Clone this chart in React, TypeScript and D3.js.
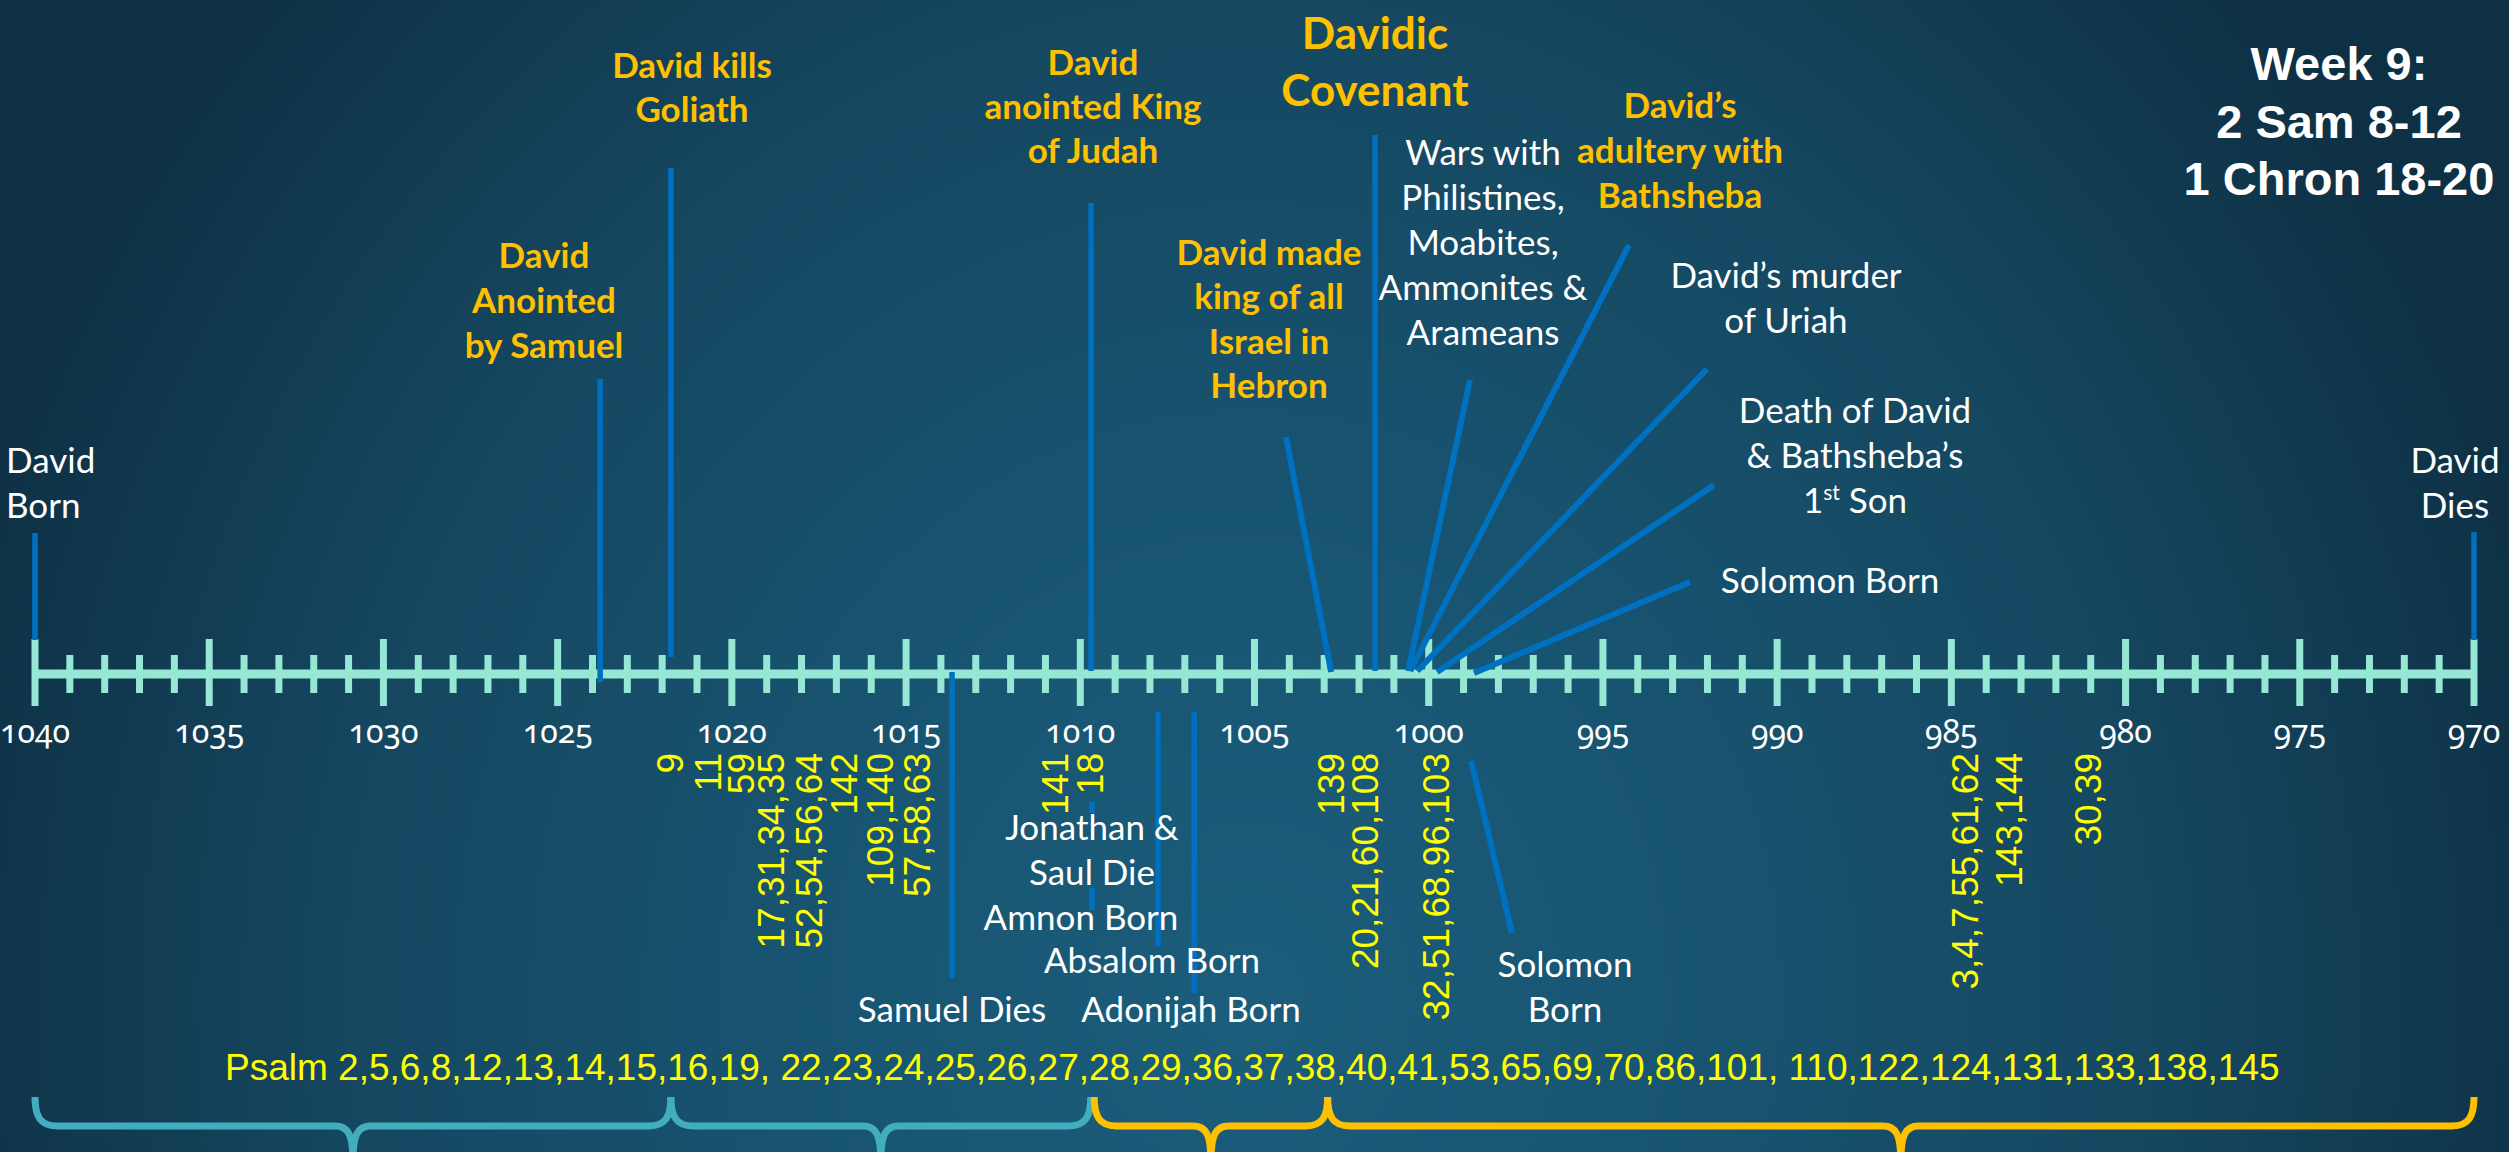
import React from "react";
import * as d3 from "d3";

const WIDTH = 2509;
const HEIGHT = 1152;

// ---------------- data ----------------
const FIRST_YEAR = 1040;
const LAST_YEAR = 970;
const MAJOR_TICK_YEARS = d3.range(1040, 969, -5);
const MINOR_TICK_YEARS = d3.range(1040, 969, -1).filter((y) => y % 5 !== 0);
const TICK_LABELS = MAJOR_TICK_YEARS.map((y) => String(y));

// events above the timeline (year where the pointer meets the axis)
const topEventIds = ["born", "samuel", "goliath", "judah", "hebron", "covenant", "wars", "adultery", "uriah", "son", "solomonTop", "dies"];
const topEventYears = [1040, 1023.78, 1021.75, 1009.69, 1002.8, 1001.54, 1000.59, 1000.53, 1000.33, 999.76, 998.7, 970];
const topEventLabels = [
  ["David", "Born"],
  ["David", "Anointed", "by Samuel"],
  ["David kills", "Goliath"],
  ["David", "anointed King", "of Judah"],
  ["David made", "king of all", "Israel in", "Hebron"],
  ["Davidic", "Covenant"],
  ["Wars with", "Philistines,", "Moabites,", "Ammonites &", "Arameans"],
  ["David’s", "adultery with", "Bathsheba"],
  ["David’s murder", "of Uriah"],
  ["Death of David", "& Bathsheba’s", "1st Son"],
  ["Solomon Born"],
  ["David", "Dies"],
];
const topEventKinds = ["white", "gold", "gold", "gold", "gold", "goldBig", "white", "gold", "white", "white", "white", "white"];

// events below the timeline
const bottomEventIds = ["samuelDies", "saul", "amnon", "absalom", "adonijah", "solomon"];
const bottomEventYears = [1013.68, 1009.66, 1009.66, 1007.77, 1006.73, 998.78];
const bottomEventLabels = [
  ["Samuel Dies"],
  ["Jonathan &", "Saul Die"],
  ["Amnon Born"],
  ["Absalom Born"],
  ["Adonijah Born"],
  ["Solomon", "Born"],
];

// psalm groups written vertically under the axis
const psalmGroupYears = [1021.75, 1020.68, 1019.71, 1018.85, 1017.76, 1016.78, 1015.72, 1014.66, 1010.72, 1009.72, 1002.8, 1001.8, 999.79, 984.6, 983.34, 981.07];
const psalmGroupLabels = ["9", "11", "59", "17,31,34,35", "52,54,56,64", "142", "109,140", "57,58,63", "141", "18", "139", "20,21,60,108", "32,51,68,96,103", "3,4,7,55,61,62", "143,144", "30,39"];

const psalmListLabel =
  "Psalm 2,5,6,8,12,13,14,15,16,19, 22,23,24,25,26,27,28,29,36,37,38,40,41,53,65,69,70,86,101, 110,122,124,131,133,138,145";

// periods marked by braces at the bottom
const periodStarts = [1040, 1021.75, 1009.6, 1002.9];
const periodEnds = [1021.75, 1009.7, 1002.9, 970];
const periodTones = ["teal", "teal", "gold", "gold"];

const titleLines = ["Week 9:", "2 Sam 8-12", "1 Chron 18-20"];

// ---------------- layout / style ----------------
const COLORS: Record<string, string> = {
  gold: "#ffc000",
  goldBig: "#ffc000",
  white: "#ffffff",
  psalm: "#ffff00",
  blue: "#0070c0",
  axis: "#96e8d4",
  teal: "#41adbd",
};
const LABEL_FONT = "Lato, 'Open Sans', sans-serif";
const TICK_FONT = "'Noto Sans', Lato, sans-serif";
const ARIAL = "'Liberation Sans', Arial, sans-serif";

const AXIS_Y = 674;

type TopLayout = { lx: number; ly: number; lh: number; anchor?: string; topX?: number; lineTop: number; lineBottom: number };
const topLayout: Record<string, TopLayout> = {
  born: { lx: 6, ly: 473, lh: 45, anchor: "start", lineTop: 533, lineBottom: 640 },
  samuel: { lx: 544, ly: 268, lh: 45, lineTop: 379, lineBottom: 682 },
  goliath: { lx: 692, ly: 78, lh: 44, lineTop: 168, lineBottom: 657 },
  judah: { lx: 1093, ly: 75, lh: 44, lineTop: 203, lineBottom: 671 },
  hebron: { lx: 1269, ly: 265, lh: 44.3, topX: 1286, lineTop: 437, lineBottom: 672 },
  covenant: { lx: 1375, ly: 49, lh: 57, lineTop: 135, lineBottom: 671 },
  wars: { lx: 1483, ly: 165, lh: 45, topX: 1470, lineTop: 380, lineBottom: 671 },
  adultery: { lx: 1680, ly: 118, lh: 45, topX: 1629, lineTop: 245, lineBottom: 671 },
  uriah: { lx: 1786, ly: 288, lh: 45, topX: 1707, lineTop: 369, lineBottom: 671 },
  son: { lx: 1855, ly: 423, lh: 45, topX: 1714, lineTop: 485, lineBottom: 672 },
  solomonTop: { lx: 1830, ly: 593, lh: 45, topX: 1690, lineTop: 582, lineBottom: 673 },
  dies: { lx: 2455, ly: 473, lh: 45, lineTop: 532, lineBottom: 640 },
};

type BottomLayout = { lx: number; ly: number; lh: number; spans?: number[][]; endX?: number; endY?: number; startY?: number };
const bottomLayout: Record<string, BottomLayout> = {
  samuelDies: { lx: 952, ly: 1022, lh: 45, spans: [[672, 978]] },
  saul: { lx: 1092, ly: 840, lh: 45, spans: [] },
  amnon: { lx: 1081, ly: 930, lh: 45, spans: [[802, 813], [888, 910]] },
  absalom: { lx: 1152, ly: 973, lh: 45, spans: [[712, 947]] },
  adonijah: { lx: 1191, ly: 1022, lh: 45, spans: [[712, 993]] },
  solomon: { lx: 1565, ly: 977, lh: 45, startY: 761, endX: 1512, endY: 933 },
};

function bracePath(x0: number, x1: number, top: number, mid: number, bottom: number) {
  const xm = (x0 + x1) / 2;
  return (
    `M${x0},${top} C${x0},${mid - 10} ${x0 + 5},${mid} ${x0 + 22},${mid} ` +
    `L${xm - 18},${mid} C${xm - 5},${mid} ${xm},${mid + 8} ${xm},${bottom} ` +
    `M${xm},${bottom} C${xm},${mid + 8} ${xm + 5},${mid} ${xm + 18},${mid} ` +
    `L${x1 - 22},${mid} C${x1 - 5},${mid} ${x1},${mid - 10} ${x1},${top}`
  );
}

function LabelLine({ text, x, y, anchor, size, weight, fill }: any) {
  const m = /^1st (.*)$/.exec(text);
  if (m) {
    return (
      <text x={x} y={y} textAnchor={anchor} fontSize={size} fontWeight={weight} fill={fill} fontFamily={LABEL_FONT}>
        1<tspan dy={-13} fontSize={size * 0.6}>st</tspan>
        <tspan dy={13}>{" " + m[1]}</tspan>
      </text>
    );
  }
  return (
    <text x={x} y={y} textAnchor={anchor} fontSize={size} fontWeight={weight} fill={fill} fontFamily={LABEL_FONT}>
      {text}
    </text>
  );
}

export default function App() {
  const x = d3.scaleLinear().domain([FIRST_YEAR, LAST_YEAR]).range([35, 2474]);

  return (
    <svg
      width={WIDTH}
      height={HEIGHT}
      viewBox={`0 0 ${WIDTH} ${HEIGHT}`}
      style={{ position: "absolute", left: 0, top: 0, display: "block" }}
    >
      <defs>
        <radialGradient
          id="bg"
          gradientUnits="userSpaceOnUse"
          cx={1250}
          cy={1000}
          r={1350}
          gradientTransform="translate(1250,1000) scale(1,1.11) translate(-1250,-1000)"
        >
          <stop offset="0" stopColor="#1b5d7b" />
          <stop offset="0.3" stopColor="#185572" />
          <stop offset="0.67" stopColor="#154760" />
          <stop offset="1" stopColor="#0e3044" />
        </radialGradient>
      </defs>
      <rect x={0} y={0} width={WIDTH} height={HEIGHT} fill="url(#bg)" />

      {/* braces */}
      {periodStarts.map((s, i) => (
        <path
          key={"brace" + i}
          d={bracePath(x(s), x(periodEnds[i]), 1097, 1126, 1162)}
          fill="none"
          stroke={COLORS[periodTones[i]]}
          strokeWidth={7}
        />
      ))}

      {/* psalm list */}
      <text x={225} y={1080} fontFamily={ARIAL} fontSize={37} fill={COLORS.psalm}>
        {psalmListLabel}
      </text>

      {/* axis */}
      <line x1={x(FIRST_YEAR)} x2={x(LAST_YEAR)} y1={AXIS_Y} y2={AXIS_Y} stroke={COLORS.axis} strokeWidth={9} />
      {MINOR_TICK_YEARS.map((y) => (
        <line key={"mi" + y} x1={x(y)} x2={x(y)} y1={655} y2={693} stroke={COLORS.axis} strokeWidth={7} />
      ))}
      {MAJOR_TICK_YEARS.map((y) => (
        <line key={"ma" + y} x1={x(y)} x2={x(y)} y1={639} y2={706} stroke={COLORS.axis} strokeWidth={7} />
      ))}
      {MAJOR_TICK_YEARS.map((y, i) => (
        <text
          key={"tl" + y}
          x={x(y)}
          y={743}
          textAnchor="middle"
          fontFamily={TICK_FONT}
          fontSize={32}
          fill="#ffffff"
          style={{ fontVariantNumeric: "oldstyle-nums", fontFeatureSettings: "'onum' 1" }}
        >
          {TICK_LABELS[i]}
        </text>
      ))}

      {/* vertical psalm groups */}
      {psalmGroupYears.map((y, i) => (
        <text
          key={"pg" + i}
          transform={`translate(${x(y)},753) rotate(-90)`}
          textAnchor="end"
          dominantBaseline="central"
          fontFamily={ARIAL}
          fontSize={37}
          fill={COLORS.psalm}
        >
          {psalmGroupLabels[i]}
        </text>
      ))}

      {/* event pointers above axis */}
      {topEventIds.map((id, i) => {
        const L = topLayout[id];
        const bx = x(topEventYears[i]);
        const tx = L.topX !== undefined ? L.topX : bx;
        return (
          <line
            key={"tline" + id}
            x1={tx}
            y1={L.lineTop}
            x2={bx}
            y2={L.lineBottom}
            stroke={COLORS.blue}
            strokeWidth={L.topX !== undefined ? 6 : 5.5}
          />
        );
      })}

      {/* event pointers below axis */}
      {bottomEventIds.map((id, i) => {
        const L = bottomLayout[id];
        const bx = x(bottomEventYears[i]);
        if (L.endX !== undefined) {
          return (
            <line key={"bline" + id} x1={bx} y1={L.startY} x2={L.endX} y2={L.endY} stroke={COLORS.blue} strokeWidth={6} />
          );
        }
        return (
          <g key={"bline" + id}>
            {(L.spans || []).map((s, j) => (
              <line key={j} x1={bx} x2={bx} y1={s[0]} y2={s[1]} stroke={COLORS.blue} strokeWidth={5.5} />
            ))}
          </g>
        );
      })}

      {/* labels above */}
      {topEventIds.map((id, i) => {
        const L = topLayout[id];
        const kind = topEventKinds[i];
        const size = kind === "goldBig" ? 44 : 35;
        const weight = kind === "white" ? 400 : 700;
        return (
          <g key={"tlab" + id}>
            {topEventLabels[i].map((line, j) => (
              <LabelLine
                key={j}
                text={line}
                x={L.lx}
                y={L.ly + j * L.lh}
                anchor={L.anchor || "middle"}
                size={size}
                weight={weight}
                fill={COLORS[kind]}
              />
            ))}
          </g>
        );
      })}

      {/* labels below */}
      {bottomEventIds.map((id, i) => {
        const L = bottomLayout[id];
        return (
          <g key={"blab" + id}>
            {bottomEventLabels[i].map((line, j) => (
              <LabelLine
                key={j}
                text={line}
                x={L.lx}
                y={L.ly + j * L.lh}
                anchor="middle"
                size={35}
                weight={400}
                fill={COLORS.white}
              />
            ))}
          </g>
        );
      })}

      {/* title */}
      {titleLines.map((t, i) => (
        <text
          key={"title" + i}
          x={2339}
          y={80 + i * 57.5}
          textAnchor="middle"
          fontFamily={ARIAL}
          fontWeight={700}
          fontSize={47}
          fill="#ffffff"
        >
          {t}
        </text>
      ))}
    </svg>
  );
}
